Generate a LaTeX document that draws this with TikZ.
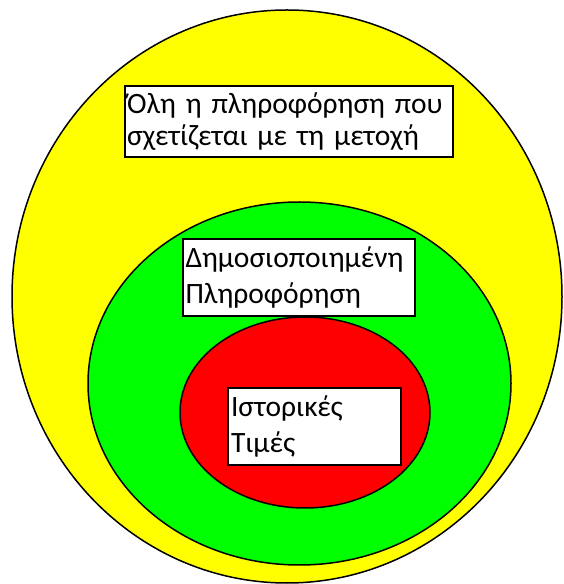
\documentclass[tikz,border=0pt]{standalone}
\usepackage{fontspec}
\setmainfont{Carlito}
\usetikzlibrary{shapes.geometric}
\definecolor{cyellow}{HTML}{FFFF00}
\definecolor{cgreen}{HTML}{00FF00}
\definecolor{cred}{HTML}{FF0000}
\tikzset{
  ring/.style={ellipse, draw=black, line width=1.5pt, inner sep=0pt},
  label box/.style={draw=black, fill=white, line width=1.8pt, inner xsep=2pt, inner ysep=0pt,
    align=left, font=\fontsize{29.5}{36}\selectfont, anchor=center}
}
\begin{document}
\begin{tikzpicture}[x=1pt,y=1pt]
\useasboundingbox (0,0) rectangle (563,584);
\node[ring, fill=cyellow, minimum width=550pt, minimum height=573pt] (outer) at (287,287.5) {};
\node[ring, fill=cgreen, minimum width=423pt, minimum height=363pt] (middle) at (299.5,200.5) {};
\node[ring, fill=cred, minimum width=250pt, minimum height=191pt] (inner) at (305,171.5) {};
\node[label box, minimum width=328pt, minimum height=71pt, text width=324pt,
  font=\fontsize{29.5}{32}\selectfont] (allinfo) at (289,462.5)
  {Όλη η πληροφόρηση που\\σχετίζεται με τη μετοχή};
\node[label box, minimum width=232pt, minimum height=77pt, text width=227pt, inner xsep=2.5pt] (public) at (299,306.5)
  {Δημοσιοποιημένη\\Πληροφόρηση};
\node[label box, minimum width=173pt, minimum height=77pt, text width=167pt, inner xsep=3pt] (hist) at (314.5,157.5)
  {Ιστορικές\\Τιμές};
\end{tikzpicture}
\end{document}
